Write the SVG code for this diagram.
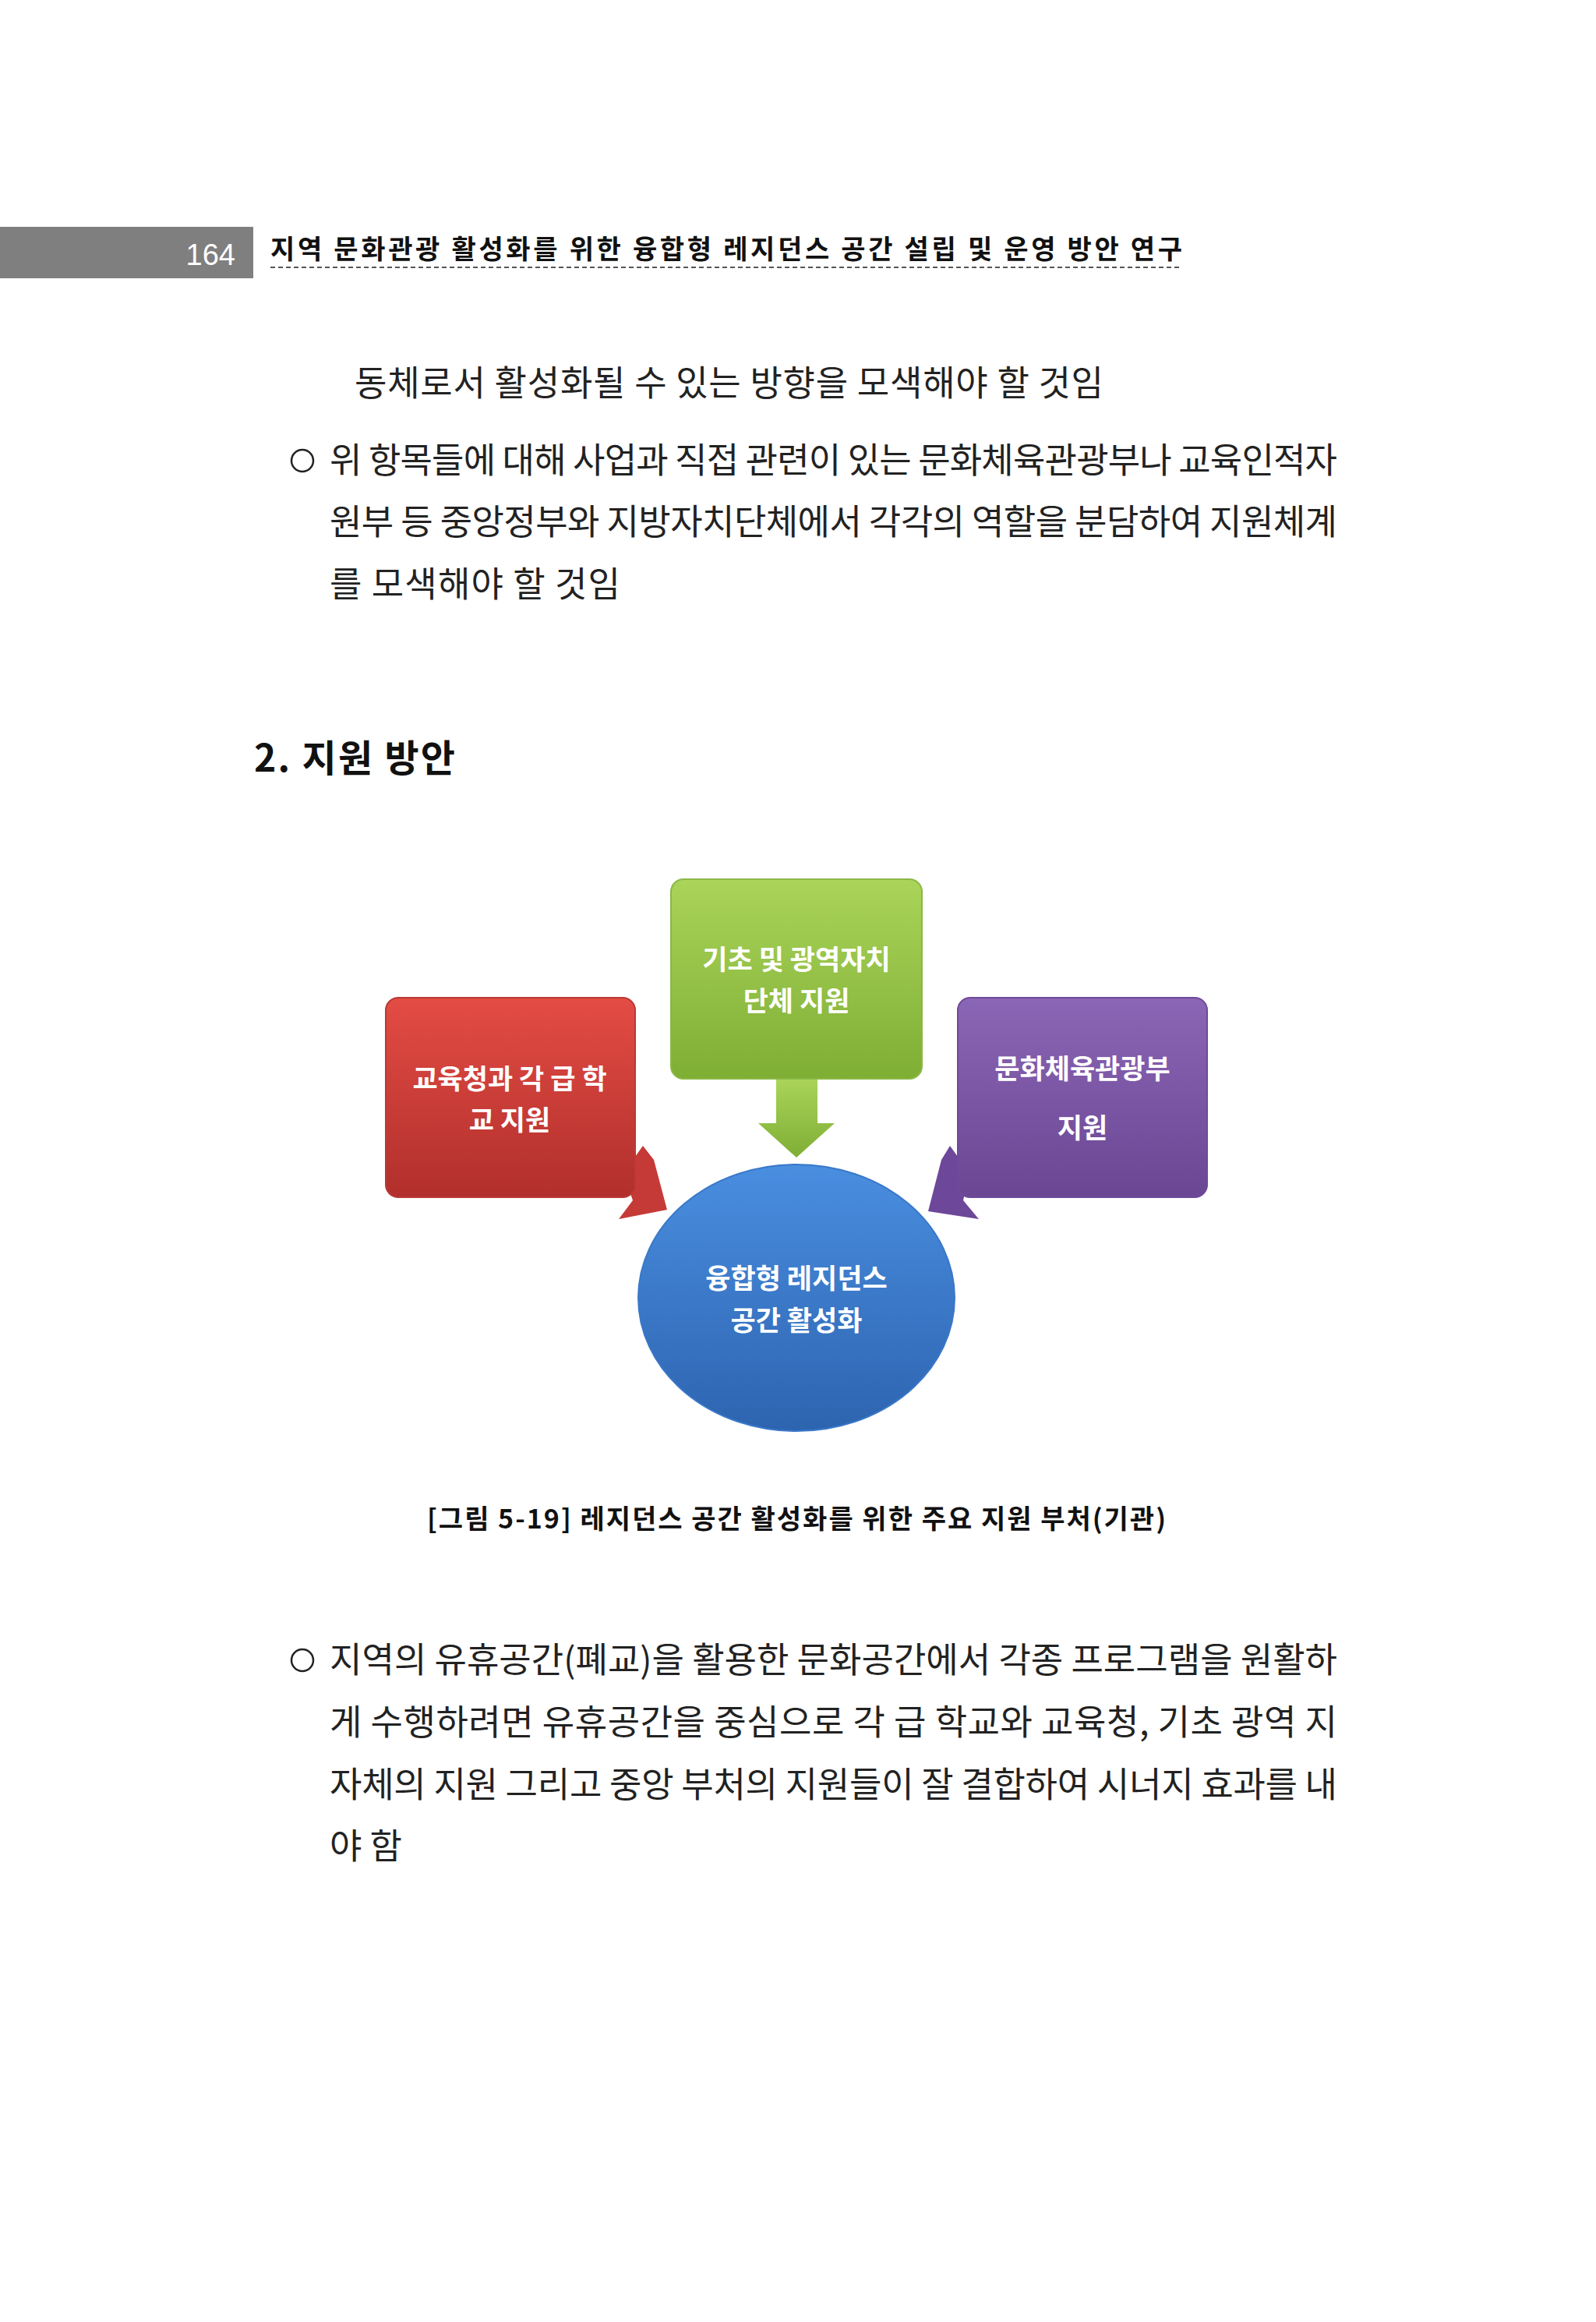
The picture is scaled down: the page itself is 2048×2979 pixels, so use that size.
<svg xmlns="http://www.w3.org/2000/svg" width="2048" height="2979" viewBox="0 0 2048 2979">
<style>
.b{font-family:"Noto Sans CJK KR","Liberation Sans",sans-serif;font-size:45px;fill:#222}
.w{font-family:"Noto Sans CJK KR","Liberation Sans",sans-serif;font-size:35px;font-weight:bold;fill:#fff;text-anchor:middle}
</style>
<defs>
<linearGradient id="gr" x1="0" y1="0" x2="0" y2="1"><stop offset="0" stop-color="#e44c44"/><stop offset="1" stop-color="#b12f2c"/></linearGradient>
<linearGradient id="gg" x1="0" y1="0" x2="0" y2="1"><stop offset="0" stop-color="#aad45a"/><stop offset="1" stop-color="#7fae34"/></linearGradient>
<linearGradient id="gp" x1="0" y1="0" x2="0" y2="1"><stop offset="0" stop-color="#8c66b6"/><stop offset="1" stop-color="#6a4693"/></linearGradient>
<linearGradient id="gb" x1="0" y1="0" x2="0" y2="1"><stop offset="0" stop-color="#4a8ee0"/><stop offset="1" stop-color="#2d64b0"/></linearGradient>
</defs>
<rect width="2048" height="2979" fill="#fff"/>
<g id="header">
<rect x="0" y="291" width="325" height="66" fill="#7f7f7f"/>
<text x="302" y="340" font-family="Liberation Sans,sans-serif" font-size="38" fill="#fff" text-anchor="end">164</text>
<text x="347" y="332" font-family="Noto Sans CJK KR,sans-serif" font-size="34" font-weight="bold" fill="#111" textLength="1170">지역 문화관광 활성화를 위한 융합형 레지던스 공간 설립 및 운영 방안 연구</text>
<line x1="347" y1="343" x2="1517" y2="343" stroke="#555" stroke-width="2" stroke-dasharray="6,4"/>
</g>
<g id="body1">
<text class="b" x="455" y="508" textLength="961">동체로서 활성화될 수 있는 방향을 모색해야 할 것임</text>
<circle cx="388" cy="591" r="14" fill="none" stroke="#222" stroke-width="2.5"/>
<text class="b" x="423" y="607" textLength="1293">위 항목들에 대해 사업과 직접 관련이 있는 문화체육관광부나 교육인적자</text>
<text class="b" x="423" y="686" textLength="1293">원부 등 중앙정부와 지방자치단체에서 각각의 역할을 분담하여 지원체계</text>
<text class="b" x="423" y="766" textLength="373">를 모색해야 할 것임</text>
</g>
<text x="326" y="990" font-family="Noto Sans CJK KR,sans-serif" font-size="48" font-weight="bold" fill="#111" textLength="258">2. 지원 방안</text>
<g id="connectors">
<polygon points="996,1384 1049,1384 1049,1441 1071,1441 1022,1485 973,1441 996,1441" fill="url(#gg)"/>
<polygon points="800,1505 825,1470 839,1488 856,1552 794,1564 812,1540" fill="#c53a36"/>
<polygon points="1244,1505 1219,1470 1208,1488 1191,1554 1256,1564 1236,1540" fill="#6d4799"/>
</g>
<g id="n-green">
<rect x="861" y="1128" width="322" height="256" rx="16" fill="url(#gg)" stroke="#8ab845" stroke-width="2"/>
<text class="w" x="1022" y="1244">기초 및 광역자치</text>
<text class="w" x="1022" y="1297">단체 지원</text>
</g>
<g id="n-red">
<rect x="495" y="1280" width="320" height="256" rx="16" fill="url(#gr)" stroke="#b83a36" stroke-width="2"/>
<text class="w" x="654" y="1397">교육청과 각 급 학</text>
<text class="w" x="654" y="1450">교 지원</text>
</g>
<g id="n-purple">
<rect x="1229" y="1280" width="320" height="256" rx="16" fill="url(#gp)" stroke="#6e4b9a" stroke-width="2"/>
<text class="w" x="1389" y="1384">문화체육관광부</text>
<text class="w" x="1389" y="1460">지원</text>
</g>
<g id="n-center">
<ellipse cx="1022" cy="1665" rx="203" ry="171" fill="url(#gb)" stroke="#3a78c8" stroke-width="2"/>
<text class="w" x="1022" y="1653">융합형 레지던스</text>
<text class="w" x="1022" y="1707">공간 활성화</text>
</g>
<text x="548" y="1961" font-family="Noto Sans CJK KR,sans-serif" font-size="34" font-weight="bold" fill="#111" textLength="948">[그림 5-19] 레지던스 공간 활성화를 위한 주요 지원 부처(기관)</text>
<g id="body2">
<circle cx="388" cy="2130" r="14" fill="none" stroke="#222" stroke-width="2.5"/>
<text class="b" x="423" y="2146" textLength="1293">지역의 유휴공간(폐교)을 활용한 문화공간에서 각종 프로그램을 원활하</text>
<text class="b" x="423" y="2226" textLength="1293">게 수행하려면 유휴공간을 중심으로 각 급 학교와 교육청, 기초 광역 지</text>
<text class="b" x="423" y="2306" textLength="1293">자체의 지원 그리고 중앙 부처의 지원들이 잘 결합하여 시너지 효과를 내</text>
<text class="b" x="423" y="2385">야 함</text>
</g>
</svg>
